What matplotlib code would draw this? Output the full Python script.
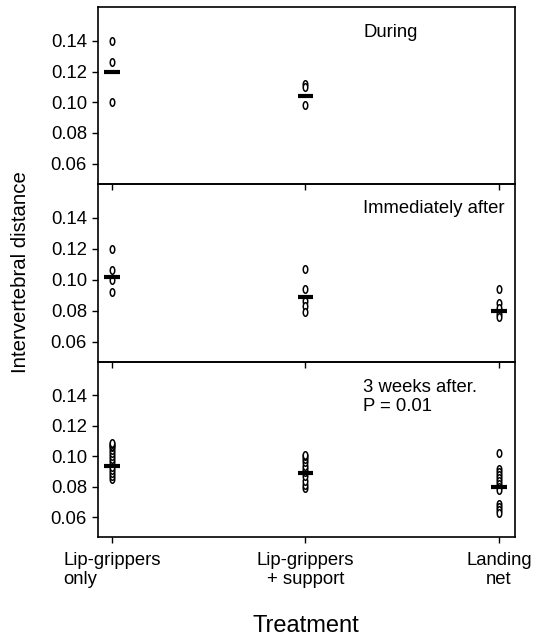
import matplotlib.pyplot as plt
from matplotlib.path import Path
import numpy as np

plt.rcParams['font.family'] = ['Liberation Sans', 'DejaVu Sans']

# grupos de tratamiento
grupos = ["Lip-grippers\nonly", "Lip-grippers\n+ support", "Landing\nnet"]
paneles = ["During", "Immediately after", "3 weeks after.\nP = 0.01"]

# valores (distancia intervertebral)
durante_lip = [0.140, 0.126, 0.100]
durante_sop = [0.112, 0.110, 0.098]
durante_red = []
durante_media = [0.120, 0.104, None]

inmediato_lip = [0.120, 0.106, 0.100, 0.092]
inmediato_sop = [0.107, 0.094, 0.086, 0.083, 0.079]
inmediato_red = [0.094, 0.085, 0.082, 0.078, 0.076]
inmediato_media = [0.102, 0.089, 0.080]

semanas_lip = [0.085, 0.087, 0.089, 0.091, 0.093, 0.096, 0.098, 0.100,
               0.102, 0.104, 0.106, 0.107, 0.108, 0.109]
semanas_sop = [0.079, 0.081, 0.084, 0.087, 0.090, 0.092, 0.094, 0.096,
               0.098, 0.100, 0.101]
semanas_red = [0.102, 0.092, 0.090, 0.088, 0.086, 0.084, 0.082, 0.080,
               0.078, 0.069, 0.067, 0.065, 0.063]
semanas_media = [0.094, 0.089, 0.080]

datos = [
    ([durante_lip, durante_sop, durante_red], durante_media),
    ([inmediato_lip, inmediato_sop, inmediato_red], inmediato_media),
    ([semanas_lip, semanas_sop, semanas_red], semanas_media),
]

# marcador eliptico (mas alto que ancho)
t = np.linspace(0, 2 * np.pi, 40)
elipse = Path(np.column_stack([0.6 * np.cos(t), np.sin(t)]), closed=True)

fig = plt.figure(figsize=(5.45, 6.44), dpi=100)
izq, ancho = 0.180, 0.765
limites = [(0.989, 0.715), (0.715, 0.438), (0.438, 0.166)]

for i, ((series, medias), titulo) in enumerate(zip(datos, paneles)):
    arriba, abajo = limites[i]
    ax = fig.add_axes([izq, abajo, ancho, arriba - abajo])
    for x, valores in enumerate(series):
        if valores:
            ax.plot([x] * len(valores), valores, linestyle='none', marker=elipse,
                    markersize=5.4, markerfacecolor='white', markeredgecolor='black',
                    markeredgewidth=1.1, zorder=3)
        if medias[x] is not None:
            ax.hlines(medias[x], x - 0.039, x + 0.039, color='black', lw=3, zorder=4)

    ax.set_xlim(-0.072, 2.083)
    ax.set_ylim(0.047, 0.162)
    ax.set_yticks([0.06, 0.08, 0.10, 0.12, 0.14])
    ax.set_yticklabels(["0.06", "0.08", "0.10", "0.12", "0.14"])
    ax.set_xticks([0, 1, 2])
    if i == 2:
        etiquetas = ax.set_xticklabels(grupos, linespacing=1.1)
        etiquetas[0].set_multialignment('left')
    else:
        ax.set_xticklabels([])
    ax.tick_params(axis='both', direction='out', length=4, width=1,
                   labelsize=13.3, pad=4)
    ax.tick_params(axis='x', pad=7)
    for s in ax.spines.values():
        s.set_linewidth(1.2)
    ax.text(0.636, 0.905, titulo, transform=ax.transAxes, fontsize=13.3,
            ha='left', va='top', linespacing=1.15)
    ax.patch.set_alpha(0)

fig.text(0.037, 0.577, "Intervertebral distance", rotation=90,
         ha='center', va='center', fontsize=14.7)
fig.text(0.562, 0.028, "Treatment", ha='center', va='center', fontsize=17)

fig.savefig("out.png", dpi=100)
